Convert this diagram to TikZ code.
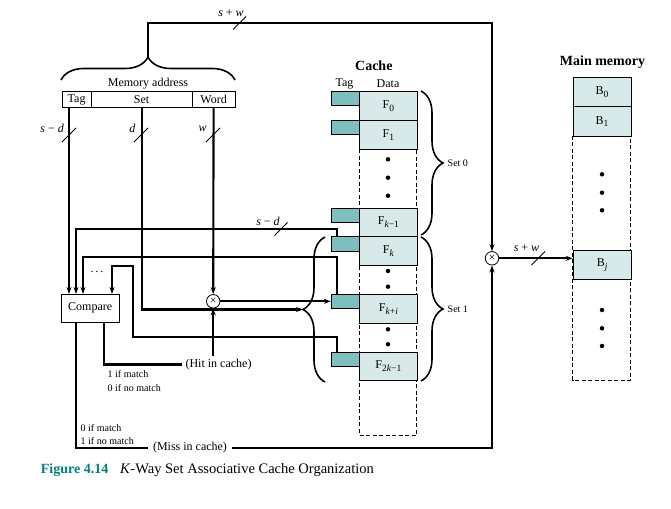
\documentclass[tikz,border=0pt]{standalone}
\usepackage{fontspec}
\setmainfont{Liberation Serif}
\usetikzlibrary{arrows.meta,decorations.pathreplacing,calc}
\definecolor{tagfill}{RGB}{127,190,190}
\definecolor{datafill}{RGB}{215,234,233}
\definecolor{capteal}{RGB}{0,128,128}
\newcommand\sbx[1]{\raisebox{-2.6pt}{\fontsize{9.5}{9.5}\selectfont #1}}
\begin{document}
\begin{tikzpicture}[x=1pt,y=-1pt,
  conn/.style={line width=2.1pt},
  arr/.style={conn,-{Stealth[length=7pt,width=5pt]}},
  slashln/.style={line width=0.9pt},
  dbox/.style={draw,line width=0.8pt,fill=datafill,minimum width=57.4pt,minimum height=28.8pt,inner sep=0pt,anchor=north west,font=\fontsize{12}{14}\selectfont},
  tbox/.style={draw,line width=0.8pt,fill=tagfill,minimum width=28.4pt,minimum height=14.2pt,inner sep=0pt,anchor=north west},
  mbox/.style={draw,line width=0.8pt,fill=datafill,minimum width=58pt,minimum height=29.2pt,inner sep=0pt,anchor=north west,font=\fontsize{12}{14}\selectfont},
  fieldbox/.style={draw,line width=0.8pt,minimum height=15.4pt,inner sep=0pt,anchor=north west,font=\fontsize{12}{14}\selectfont},
  lbl/.style={font=\fontsize{12}{14}\selectfont,inner sep=0pt},
  smalltxt/.style={font=\fontsize{10}{12}\selectfont,inner sep=0pt},
  headtxt/.style={font=\fontsize{14}{16}\selectfont\bfseries,inner sep=0pt},
  dashcol/.style={line width=0.8pt,dash pattern=on 4pt off 2.5pt},
  bullet/.style={circle,fill,inner sep=0pt,minimum size=4.5pt},
  mulnode/.style={circle,draw,line width=0.8pt,inner sep=0pt,minimum size=13.5pt,fill=white,font=\fontsize{12}{12}\selectfont},
  brc/.style={decorate,line width=1.6pt,decoration={brace,amplitude=#1}},
]
\useasboundingbox (0,0) rectangle (671,508);

% ---------- memory address ----------
\draw[brc=23pt] (61,80) -- (235,80);
\coordinate (bt) at (148,57);
\node[lbl] at (148,84) {Memory address};
\node[fieldbox,minimum width=29pt] (ftag) at (61.7,91.3) {Tag};
\node[fieldbox,minimum width=101pt] (fset) at (90.7,91.3) {Set};
\node[fieldbox,minimum width=43pt] (fword) at (191.7,91.3) {Word};

% ---------- cache ----------
\node[headtxt] at (373.8,66) {Cache};
\node[lbl] at (344.5,83.5) {Tag};
\node[lbl] at (388,83.5) {Data};
\draw[dashcol] (359.3,149.3) -- (359.3,435) -- (416.7,435) -- (416.7,149.3);
\node[dbox] (d0) at (359.3,91.3) {F\sbx{0}};
\node[tbox] (t0) at (330.9,91.3) {};
\node[dbox] (d1) at (359.3,120.1) {F\sbx{1}};
\node[tbox] (t1) at (330.9,120.1) {};
\node[dbox] (dk1) at (359.3,207.5) {F\sbx{\textit{k}−1}};
\node[tbox] (tk1) at (330.9,207.5) {};
\node[dbox] (dk) at (359.3,236.3) {F\sbx{\textit{k}}};
\node[tbox] (tk) at (330.9,236.3) {};
\node[dbox] (dki) at (359.3,294.2) {F\sbx{\textit{k}+\textit{i}}};
\node[tbox] (tki) at (330.9,294.2) {};
\node[dbox] (d2k) at (359.3,351.5) {F\sbx{2\textit{k}−1}};
\node[tbox] (t2k) at (330.9,351.5) {};
\foreach \yy in {159.3,177.7,195.7,271,286.7,329.3,344.3}
  \node[bullet] at (388,\yy) {};
\draw[brc=22pt] (421,91) -- (421,235);
\node[smalltxt,anchor=west] at (447.5,163) {Set 0};
\draw[brc=22pt] (421,237) -- (421,381);
\node[smalltxt,anchor=west] at (447.5,309) {Set 1};
\draw[brc=22pt] (325,382) -- (325,237);
\coordinate (ib) at (303,309.5);

% ---------- main memory ----------
\node[headtxt] at (602.5,62) {Main memory};
\draw[dashcol] (572.7,135.7) -- (572.7,380) -- (630.7,380) -- (630.7,135.7);
\node[mbox] (b0) at (572.7,77.3) {B\sbx{0}};
\node[mbox] (b1) at (572.7,106.5) {B\sbx{1}};
\node[mbox] (bj) at (572.7,250) {B\sbx{\textit{j}}};
\foreach \yy in {174.3,192.7,210.3,310,328.3,346}
  \node[bullet] at (602,\yy) {};

% ---------- compare and multiplexers ----------
\node[draw,line width=0.8pt,minimum width=58.3pt,minimum height=27.7pt,inner sep=0pt,lbl] (cmp) at (90.2,308.2) {Compare};
\node[mulnode] (xl) at (213.2,301.3) {×};
\node[mulnode] (xr) at (492,258.3) {×};
\node[lbl,inner sep=3pt] (hit) at (218.5,364.5) {(Hit in cache)};
\node[lbl,inner sep=5pt] (miss) at (190,448) {(Miss in cache)};

% ---------- connectors ----------
\coordinate (tr) at (492,23);
\draw[arr] (bt) |- (tr) -- (xr.north);
\draw[slashln] (233,29.5) -- (246,16.5);
\node[lbl] at (231,13.5) {\textit{s} + \textit{w}};

\coordinate (ta) at (69,106.7);
\draw[arr] (ta) -- (ta |- cmp.north);
\draw[slashln] (62,142) -- (76,128);
\node[lbl,anchor=east] at (64,128.5) {\textit{s} − \textit{d}};

\draw[arr] (fset.south) |- (ib);
\draw[slashln] (134,142) -- (148,128);
\node[lbl] at (132.5,128.5) {\textit{d}};

\draw[arr] (fword.south) -- (xl.north);
\draw[slashln] (206,142) -- (220,128);
\node[lbl] at (202.5,128.5) {\textit{w}};

\draw[arr] (xl.east) -- (xl.east -| tki.west);

\coordinate (tkt) at (337,236.3);
\coordinate (c2) at (76,229);
\draw[arr] (tkt) |- (c2) -- (c2 |- cmp.north);
\draw[slashln] (274.5,235.5) -- (287.5,222.5);
\node[lbl] at (268,221.5) {\textit{s} − \textit{d}};

\coordinate (tkit) at (337,294.2);
\coordinate (c3) at (83,257);
\draw[arr] (tkit) |- (c3) -- (c3 |- cmp.north);

\coordinate (t2kt) at (337,351.5);
\coordinate (c4a) at (133,337);
\coordinate (c4) at (112,266);
\draw[arr] (t2kt) |- (c4a) |- (c4) -- (c4 |- cmp.north);
\node[lbl] at (97,272) {.\,.\,.};

\draw[arr] (xl.south |- hit.north) -- (xl.south);
\coordinate (co1) at (104,322);
\draw[conn] (co1) |- (hit.west);
\node[smalltxt,anchor=west] at (107.5,374) {1 if match};
\node[smalltxt,anchor=west] at (107.5,388) {0 if no match};

\coordinate (co2) at (76,322);
\draw[conn] (co2) |- (miss.west);
\draw[arr] (miss.east) -| (xr.south);
\node[smalltxt,anchor=west] at (80.5,428.5) {0 if match};
\node[smalltxt,anchor=west] at (80.5,440.7) {1 if no match};

\draw[arr] (xr.east) -- (xr.east -| bj.west);
\draw[slashln] (531.5,265) -- (545,251.5);
\node[lbl] at (526.5,248) {\textit{s} + \textit{w}};

% ---------- caption ----------
\node[anchor=west,inner sep=0pt,font=\fontsize{14}{16}\selectfont\bfseries,text=capteal] at (40.7,470) {Figure 4.14};
\node[anchor=west,inner sep=0pt,font=\fontsize{14.5}{16}\selectfont] at (120,470) {\textit{K}-Way Set Associative Cache Organization};
\end{tikzpicture}
\end{document}
